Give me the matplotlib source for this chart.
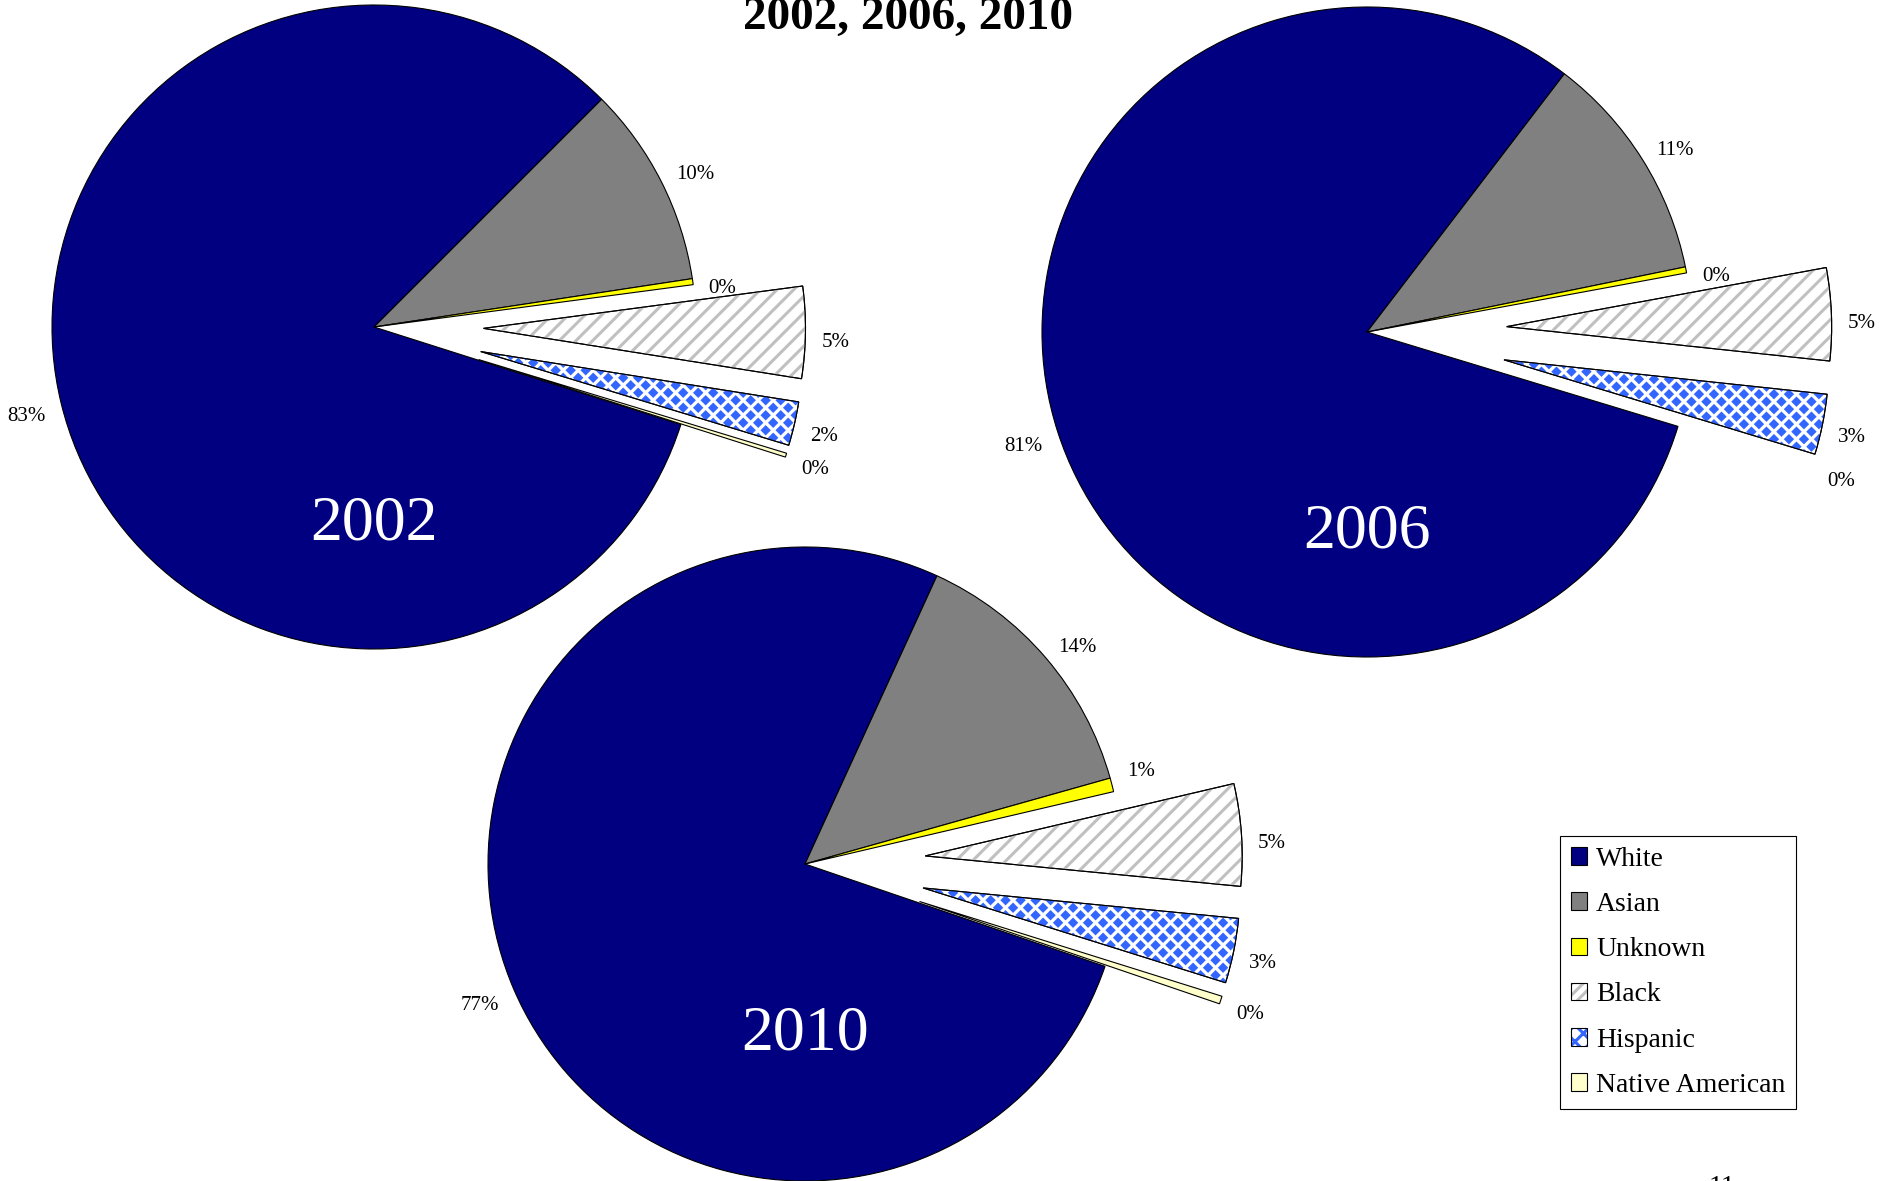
import matplotlib
matplotlib.use('Agg')
import matplotlib.pyplot as plt
import numpy as np
from matplotlib.patches import Wedge, Patch
from matplotlib.collections import PolyCollection

plt.rcParams['font.family'] = ['Liberation Serif', 'DejaVu Serif']
plt.rcParams['hatch.linewidth'] = 2.2

# ---------------- data ----------------
categories = ['White', 'Asian', 'Unknown', 'Black', 'Hispanic', 'Native American']
years = ['2002', '2006', '2010']
share_2002 = [82.6, 10.1, 0.3, 4.6, 2.2, 0.2]
share_2006 = [80.7, 11.4, 0.3, 4.6, 3.0, 0.0]
share_2010 = [76.6, 13.8, 0.7, 5.2, 3.3, 0.4]
title_text = '2002, 2006, 2010'
page_number = '11'

# ---------------- style / layout ----------------
colors = ['#000080', '#808080', '#FFFF00', '#FFFFFF', '#FFFFFF', '#FFFFCC']
STRIPE = '#C0C0C0'
CHECK = '#3366FF'
EXPLODED = [False, False, False, True, True, True]

W, H = 1892, 1181
# centre (px from left, px from top), radius px, explode fraction, angle where Asian starts, year label offset
layout = {
    '2002': dict(cx=374, cy=327, r=322, expl=0.34, asian_start=45.0, ydy=198),
    '2006': dict(cx=1367, cy=332, r=325, expl=0.43, asian_start=52.6, ydy=200),
    '2010': dict(cx=805, cy=864, r=317, expl=0.38, asian_start=65.4, ydy=170),
}
shares = {'2002': share_2002, '2006': share_2006, '2010': share_2010}

fig = plt.figure(figsize=(W / 100, H / 100), dpi=100)
ax = fig.add_axes([0, 0, 1, 1])


def add_diamonds(ax, wedge, pitch=15.0, half=5.2):
    verts = wedge.get_path().vertices
    xmin, ymin = verts.min(axis=0) - pitch
    xmax, ymax = verts.max(axis=0) + pitch
    polys = []
    for x0 in np.arange(xmin, xmax, pitch):
        for y0 in np.arange(ymin, ymax, pitch):
            for (cx, cy) in ((x0, y0), (x0 + pitch / 2, y0 + pitch / 2)):
                polys.append([(cx - half, cy), (cx, cy + half), (cx + half, cy), (cx, cy - half)])
    pc = PolyCollection(polys, facecolors=CHECK, edgecolors='none', zorder=wedge.get_zorder() + 0.1)
    ax.add_collection(pc)
    pc.set_clip_path(wedge)


for yr in years:
    L = layout[yr]
    vals = shares[yr]
    r = L['r']
    cx, cy = L['cx'], H - L['cy']
    start = L['asian_start'] + 360.0 * vals[0] / sum(vals)
    explode = [L['expl'] * r if e else 0.0 for e in EXPLODED]
    wedges, texts = ax.pie(
        vals, colors=colors, explode=explode, startangle=start, counterclock=False,
        center=(cx, cy), radius=r,
        labels=[f'{v:.0f}%' for v in vals], labeldistance=1.05,
        wedgeprops=dict(edgecolor='black', linewidth=0.8),
        textprops=dict(fontsize=15, color='black'), frame=True)
    for t in texts:
        tx, ty = t.get_position()
        s = (ty - cy) / np.hypot(tx - cx, ty - cy)
        t.set_horizontalalignment('left' if tx >= cx else 'right')
        if s > 0.35:
            t.set_verticalalignment('center')
        elif s > 0.2:
            t.set_verticalalignment('bottom')
        else:
            t.set_verticalalignment('top')
    for w, v in zip(wedges, vals):
        if v == 0:
            w.set_linewidth(0)
    # Black: gray diagonal stripes
    wb = wedges[3]
    ax.add_patch(Wedge(wb.center, wb.r, wb.theta1, wb.theta2, facecolor='none',
                       edgecolor=STRIPE, hatch='//', linewidth=0, zorder=wb.get_zorder() + 0.1))
    ax.add_patch(Wedge(wb.center, wb.r, wb.theta1, wb.theta2, facecolor='none',
                       edgecolor='black', linewidth=0.8, zorder=wb.get_zorder() + 0.2))
    # Hispanic: blue diamond pattern
    wh = wedges[4]
    add_diamonds(ax, wh)
    ax.add_patch(Wedge(wh.center, wh.r, wh.theta1, wh.theta2, facecolor='none',
                       edgecolor='black', linewidth=0.8, zorder=wh.get_zorder() + 0.2))
    ax.text(cx, cy - L['ydy'], yr, color='white', fontsize=46,
            ha='center', va='center', zorder=5)

ax.set_xlim(0, W)
ax.set_ylim(0, H)
ax.set_axis_off()

ax.text(908, H - 29, title_text, fontsize=34, fontweight='bold', ha='center', va='baseline')
ax.text(1722, H - 1175, page_number, fontsize=20, ha='center', va='top')

handles = [
    Patch(facecolor=colors[0], edgecolor='black', linewidth=0.8),
    Patch(facecolor=colors[1], edgecolor='black', linewidth=0.8),
    Patch(facecolor=colors[2], edgecolor='black', linewidth=0.8),
    (Patch(facecolor='white', edgecolor=STRIPE, hatch='///', linewidth=0),
     Patch(facecolor='none', edgecolor='black', linewidth=0.8)),
    (Patch(facecolor='white', edgecolor=CHECK, hatch='xx', linewidth=0),
     Patch(facecolor='none', edgecolor='black', linewidth=0.8)),
    Patch(facecolor=colors[5], edgecolor='black', linewidth=0.8),
]
leg = ax.legend(handles, categories, loc='upper left',
                bbox_to_anchor=(1560 / W, 1 - 836 / H), bbox_transform=fig.transFigure,
                frameon=True, fancybox=False, edgecolor='black', framealpha=1,
                fontsize=20, handlelength=0.6, handleheight=0.6, handletextpad=0.32,
                labelspacing=0.73, borderpad=0.38, borderaxespad=0)
leg.get_frame().set_linewidth(0.8)

fig.savefig('out.png', dpi=100)
